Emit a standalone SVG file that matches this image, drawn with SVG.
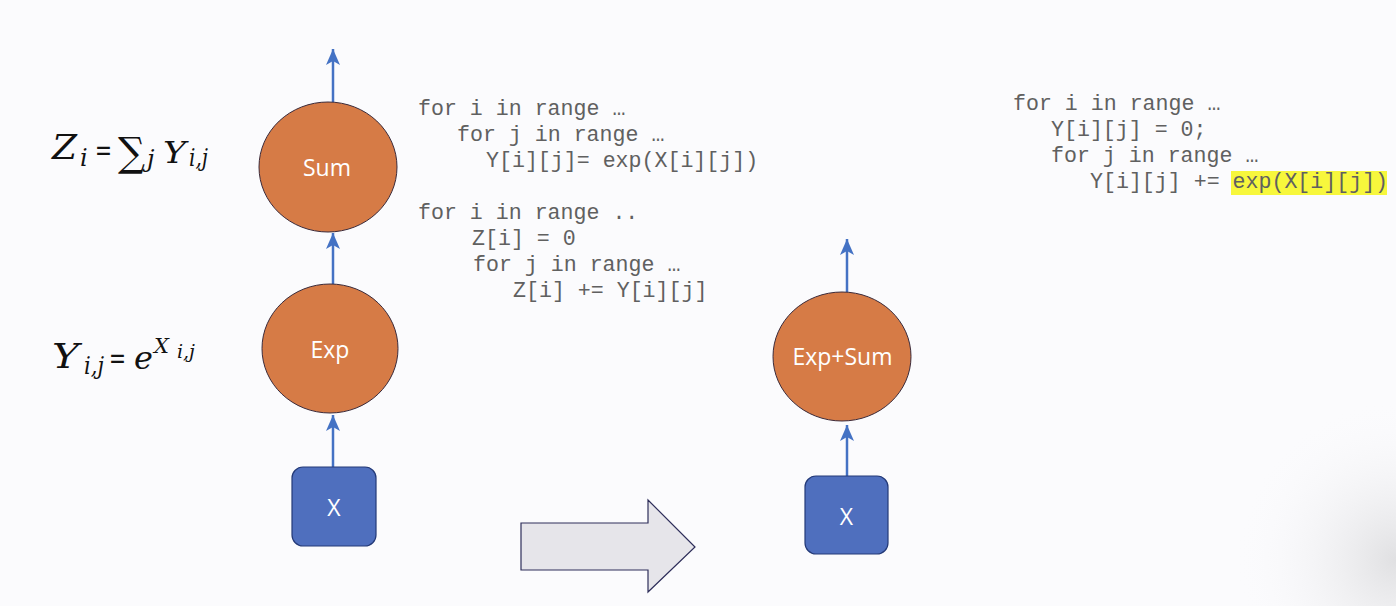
<svg xmlns="http://www.w3.org/2000/svg" width="1396" height="606" viewBox="0 0 1396 606">
<defs>
<radialGradient id="vig" cx="1396" cy="560" r="160" gradientUnits="userSpaceOnUse">
<stop offset="0" stop-color="#d9d9db" stop-opacity="0.8"/>
<stop offset="1" stop-color="#fbfbfd" stop-opacity="0"/>
</radialGradient>
<marker id="ah" viewBox="-16 -8 17 16" refX="0" refY="0" markerWidth="17" markerHeight="16" markerUnits="userSpaceOnUse" orient="auto">
<path d="M0,0 L-16,-7 L-12,0 L-16,7 Z" fill="#4472c4"/>
</marker>
<style>
.node-c{fill:#d67b46;stroke:#3a2a3a;stroke-width:1}
.node-b{fill:#4f6fbe;stroke:#243a78;stroke-width:1.2}
.lbl{font-family:"Open Sans","Noto Sans",sans-serif;font-size:23px;fill:#ffffff;text-anchor:middle}
.code{font-family:"Liberation Mono","Courier New",monospace;font-size:21.6px;fill:#606060}
.conn{stroke:#4472c4;stroke-width:2.5;fill:none;marker-end:url(#ah)}
.mi{font-family:"DejaVu Serif","Liberation Serif",serif;font-style:italic;fill:#111}
.mr{font-family:"DejaVu Serif","DejaVu Sans",serif;fill:#111}
</style>
</defs>
<rect x="0" y="0" width="1396" height="606" fill="#fbfbfd"/>
<rect x="1150" y="380" width="246" height="226" fill="url(#vig)"/>

<g id="connectors">
<line class="conn" x1="333" y1="102" x2="333" y2="49"/>
<line class="conn" x1="333" y1="284" x2="333" y2="233"/>
<line class="conn" x1="333" y1="467" x2="333" y2="415"/>
<line class="conn" x1="847" y1="292" x2="847" y2="239"/>
<line class="conn" x1="847" y1="476" x2="847" y2="425"/>
</g>

<g id="node-sum">
<ellipse class="node-c" cx="328" cy="167" rx="69" ry="65"/>
<text class="lbl" x="327" y="176">Sum</text>
</g>
<g id="node-exp">
<ellipse class="node-c" cx="330" cy="348.5" rx="68" ry="64.5"/>
<text class="lbl" x="330" y="358">Exp</text>
</g>
<g id="node-x-left">
<rect class="node-b" x="292" y="467" width="84" height="79" rx="11"/>
<text class="lbl" x="334" y="516">X</text>
</g>
<g id="node-expsum">
<ellipse class="node-c" cx="842" cy="356.5" rx="69" ry="64.5"/>
<text class="lbl" x="842.5" y="365">Exp+Sum</text>
</g>
<g id="node-x-right">
<rect class="node-b" x="805" y="476" width="83" height="78" rx="11"/>
<text class="lbl" x="846.5" y="525">X</text>
</g>

<g id="big-arrow">
<path d="M521,523 L648,523 L648,500 L695,547 L648,592 L648,570 L521,570 Z" fill="#e6e5ea" stroke="#2e2e5a" stroke-width="1.2"/>
</g>

<g id="formula-z">
<text class="mi" x="52" y="159" font-size="34" textLength="25" lengthAdjust="spacingAndGlyphs">Z</text>
<text class="mi" x="80" y="166" font-size="24">i</text>
<text class="mr" x="95" y="160" font-size="30" textLength="17" lengthAdjust="spacingAndGlyphs">=</text>
<text class="mr" x="118" y="166" font-size="40" textLength="27" lengthAdjust="spacingAndGlyphs">∑</text>
<text class="mi" x="147" y="167" font-size="24">j</text>
<text class="mi" x="163" y="163" font-size="29" textLength="23" lengthAdjust="spacingAndGlyphs">Y</text>
<text class="mi" x="189" y="166" font-size="24" textLength="19" lengthAdjust="spacingAndGlyphs">i,j</text>
</g>
<g id="formula-y">
<text class="mi" x="52" y="368" font-size="33" textLength="27" lengthAdjust="spacingAndGlyphs">Y</text>
<text class="mi" x="84" y="374" font-size="24" textLength="20" lengthAdjust="spacingAndGlyphs">i,j</text>
<text class="mr" x="109" y="368" font-size="30" textLength="17" lengthAdjust="spacingAndGlyphs">=</text>
<text class="mi" x="134" y="369" font-size="32">e</text>
<text class="mi" x="154" y="353" font-size="21">X</text>
<text class="mi" x="177" y="358" font-size="19" textLength="18" lengthAdjust="spacingAndGlyphs">i,j</text>
</g>

<g id="code-left">
<text class="code" x="418" y="115">for i in range …</text>
<text class="code" x="457" y="141">for j in range …</text>
<text class="code" x="486" y="167">Y[i][j]= exp(X[i][j])</text>
<text class="code" x="418" y="219">for i in range ..</text>
<text class="code" x="472" y="245">Z[i] = 0</text>
<text class="code" x="473" y="271">for j in range …</text>
<text class="code" x="513" y="297">Z[i] += Y[i][j]</text>
</g>

<g id="code-right">
<rect x="1231" y="171" width="156" height="24" fill="#f7f73c"/>
<text class="code" x="1013" y="110">for i in range …</text>
<text class="code" x="1051" y="136">Y[i][j] = 0;</text>
<text class="code" x="1051" y="162">for j in range …</text>
<text class="code" x="1090" y="188">Y[i][j] += exp(X[i][j])</text>
</g>
</svg>
